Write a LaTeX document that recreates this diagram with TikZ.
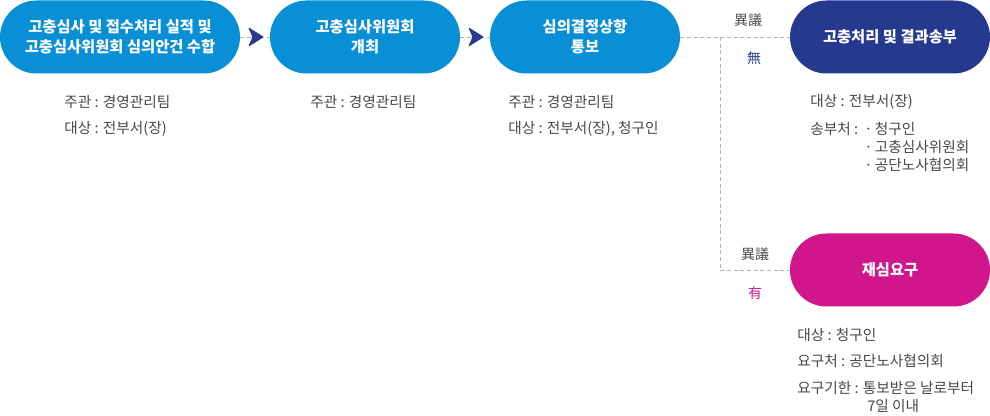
\documentclass[tikz,border=0pt]{standalone}
\usepackage{fontspec}
\setmainfont{Noto Sans CJK KR}
\begin{document}
\begin{tikzpicture}[x=0.75pt,y=-0.75pt,
  pill/.style={rounded corners=27.4pt,minimum height=54.75pt,inner sep=0pt,align=center,text=white,font=\bfseries\fontsize{11.5}{15}\selectfont},
  info/.style={anchor=west,inner sep=0pt,text=black!72,font=\fontsize{11}{12}\selectfont},
  dashline/.style={draw=black!30,line width=0.5pt,dash pattern=on 3pt off 2pt},
  chev/.style={fill=arrnavy,draw=none},
  tag/.style={inner sep=0pt,font=\fontsize{10.5}{12}\selectfont}]
\definecolor{pblue}{HTML}{088FD5}
\definecolor{pnavy}{HTML}{253A8E}
\definecolor{arrnavy}{HTML}{2B3990}
\definecolor{pmag}{HTML}{D0168A}
\useasboundingbox (0,0) rectangle (990,416);
% boxes
\node[pill,fill=pblue,minimum width=180pt] (b1) at (120,37) {고충심사 및 접수처리 실적 및\\고충심사위원회 심의안건 수합};
\node[pill,fill=pblue,minimum width=142.5pt] (b2) at (365,37) {고충심사위원회\\개최};
\node[pill,fill=pblue,minimum width=142.5pt] (b3) at (585,37) {심의결정상항\\통보};
\node[pill,fill=pnavy,minimum width=150pt] (b4) at (890,37) {고충처리 및 결과송부};
\node[pill,fill=pmag,minimum width=150pt] (b5) at (890,270) {재심요구};
% connectors
\draw[dashline] (b1.east) -- (b2.west);
\draw[dashline] (b2.east) -- (b3.west);
\draw[dashline] (b3.east) -- (b4.west);
\coordinate (split) at (720,37);
\coordinate (corner) at (720,270);
\draw[dashline] (split) -- (corner) -- (b5.west);
% chevrons
\fill[chev,rounded corners=1pt] (248,27) -- (264,37) -- (248,47) -- (252.5,37) -- cycle;
\fill[chev,rounded corners=1pt] (468,27) -- (484,37) -- (468,47) -- (472.5,37) -- cycle;
% tags
\node[tag,text=black!70] (t1) at (748,20) {異議};
\node[tag,text=pnavy] (t2) at (754,58) {無};
\node[tag,text=black!70] (t3) at (755,254) {異議};
\node[tag,text=pmag] (t4) at (755,293) {有};
% info texts
\node[info] (i1a) at (64,102) {주관 : 경영관리팀};
\node[info] (i1b) at (64,129) {대상 : 전부서(장)};
\node[info] (i2a) at (310,102) {주관 : 경영관리팀};
\node[info] (i3a) at (508,102) {주관 : 경영관리팀};
\node[info] (i3b) at (508,129) {대상 : 전부서(장), 청구인};
\node[info] (i4a) at (810,102) {대상 : 전부서(장)};
\node[info] (i4b) at (810,129) {송부처 :};
\node[info] (i4c) at (864,129) {·\,청구인};
\node[info] (i4d) at (864,147) {·\,고충심사위원회};
\node[info] (i4e) at (864,165) {·\,공단노사협의회};
\node[info] (i5a) at (797,335) {대상 : 청구인};
\node[info] (i5b) at (797,361) {요구처 : 공단노사협의회};
\node[info] (i5c) at (797,388) {요구기한 : 통보받은 날로부터};
\node[info] (i5d) at (867,406) {7일 이내};
\end{tikzpicture}
\end{document}
